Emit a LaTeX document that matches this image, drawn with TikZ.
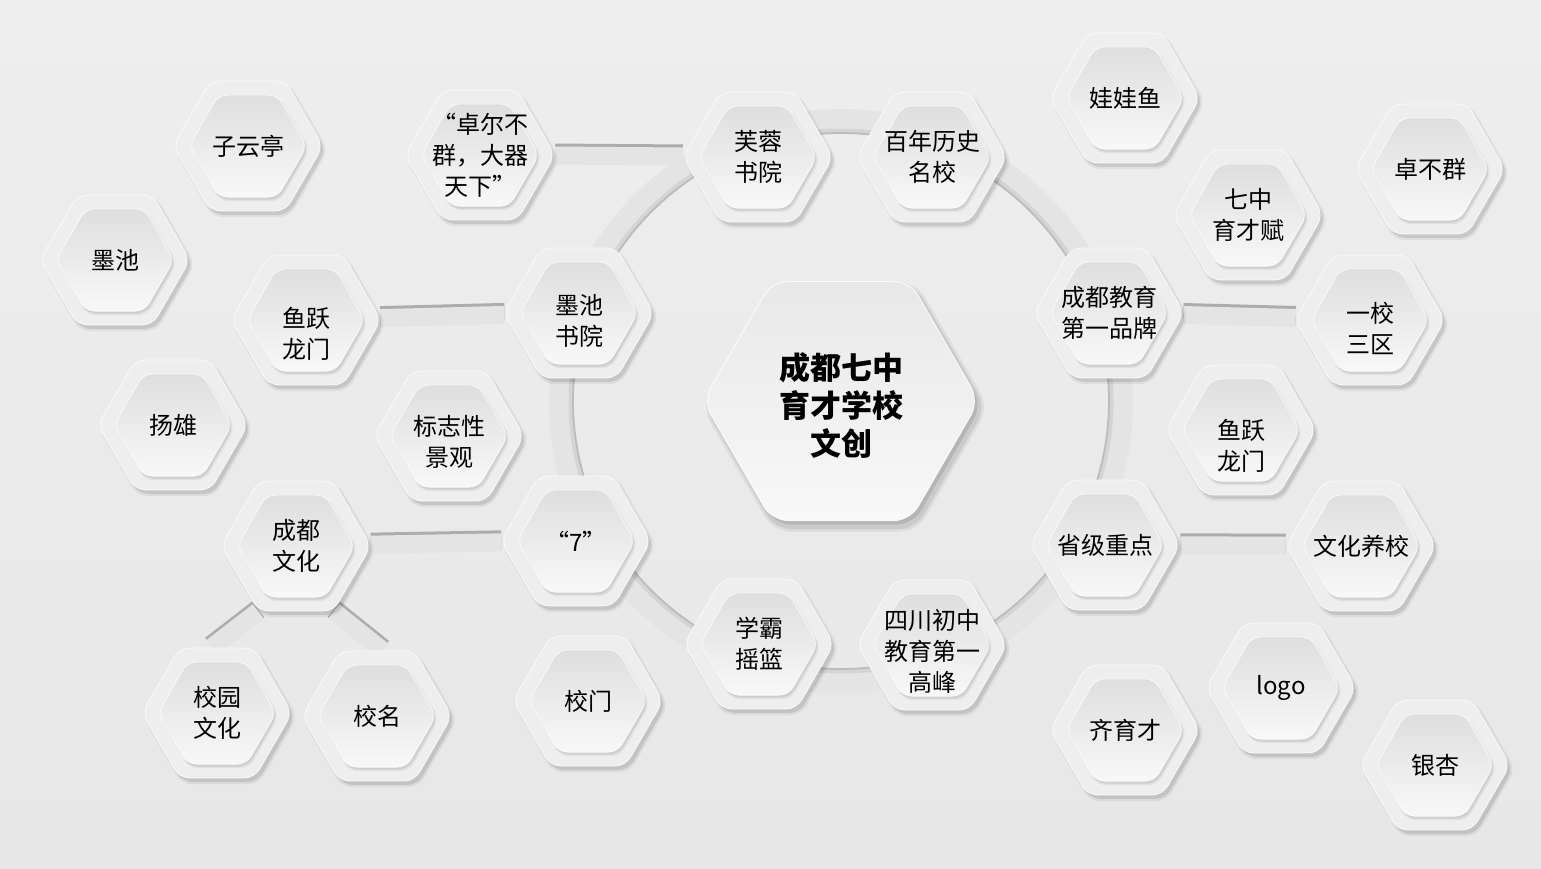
\documentclass[tikz,border=0pt]{standalone}
\usepackage{fontspec}
\setmainfont{Noto Sans CJK SC}
\usetikzlibrary{shapes.geometric,shadows}

\definecolor{bgtop}{RGB}{238,238,238}
\definecolor{bgbot}{RGB}{231,231,231}
\definecolor{plate}{RGB}{238,238,238}
\definecolor{rim}{RGB}{250,250,250}
\definecolor{facetop}{RGB}{222,222,222}
\definecolor{facebot}{RGB}{248,248,248}
\definecolor{groovefill}{RGB}{228,228,228}
\definecolor{grooveedge}{RGB}{172,172,172}
\definecolor{diskedge}{RGB}{188,188,188}
\definecolor{disksoft}{RGB}{212,212,212}

\pgfdeclarelayer{background}
\pgfsetlayers{background,main}

% one cell: outer plate, inner face, text
\newcommand{\hexcell}[4][0]{%
  \node[hexout] (#2) at (#3) {};
  \node[hexin] at (#2) {};
  \node[hextext,yshift=-#1pt] (#2-t) at (#2) {#4};
}

\begin{document}
\begin{tikzpicture}[x=1pt,y=-1pt,
  hexout/.style={regular polygon,regular polygon sides=6,minimum size=150pt,inner sep=0pt,
    rounded corners=10pt,fill=plate,draw=rim,line width=0.8pt,
    drop shadow={shadow xshift=3pt,shadow yshift=-4pt,shadow scale=1.03,opacity=.06,fill=black},
    drop shadow={shadow xshift=3pt,shadow yshift=-4pt,opacity=.10,fill=black}},
  hexin/.style={regular polygon,regular polygon sides=6,minimum size=118pt,inner sep=0pt,
    rounded corners=9pt,top color=facetop,bottom color=facebot,draw=rim,line width=0.8pt,
    drop shadow={shadow xshift=2pt,shadow yshift=-3pt,shadow scale=1.02,opacity=.06,fill=black},
    drop shadow={shadow xshift=1.5pt,shadow yshift=-2.5pt,opacity=.08,fill=black}},
  hextext/.style={align=center,inner sep=0pt,font=\fontsize{24}{31}\selectfont},
  hexbig/.style={regular polygon,regular polygon sides=6,minimum size=276pt,inner sep=0pt,
    rounded corners=16pt,top color=facetop!70!white,bottom color=facebot,draw=rim,line width=1pt,
    drop shadow={shadow xshift=4pt,shadow yshift=-6pt,shadow scale=1.04,opacity=.06,fill=black},
    drop shadow={shadow xshift=4pt,shadow yshift=-6pt,shadow scale=1.02,opacity=.08,fill=black},
    drop shadow={shadow xshift=3pt,shadow yshift=-4pt,opacity=.10,fill=black}},
  groove/.style={line width=18pt,draw=groovefill,
    preaction={draw=grooveedge,line width=20pt,transform canvas={yshift=2pt}}},
  ringband/.style={line width=24pt,draw=groovefill},
  ringedge/.style={line width=1.8pt,draw=diskedge}]

  \useasboundingbox (0,0) rectangle (1541,868);
  \begin{pgfonlayer}{background}
    \fill[bgbot] (0,0) rectangle (1541,868);
    \shade[top color=bgtop,bottom color=bgbot] (0,0) rectangle (1541,868);
  \end{pgfonlayer}

  \node[hexbig] (ctr) at (841,401) {};
  \node[align=center,inner sep=0pt,font=\bfseries\fontsize{31}{38}\selectfont,yshift=-4pt] (ctr-t) at (ctr) {成都七中\\育才学校\\文创};

  \hexcell{zyt}{248,146}{子云亭}
  \hexcell{zebq}{480,155}{“卓尔不\\群，大器\\天下”}
  \hexcell{frsy}{758,157}{芙蓉\\书院}
  \hexcell{bnls}{932,157}{百年历史\\名校}
  \hexcell{wwy}{1125,98}{娃娃鱼}
  \hexcell{qzycf}{1248,215}{七中\\育才赋}
  \hexcell{zbq}{1430,169}{卓不群}
  \hexcell{mc}{115,260}{墨池}
  \hexcell[14]{yylmA}{306,320}{鱼跃\\龙门}
  \hexcell[8]{mcsy}{579,313}{墨池\\书院}
  \hexcell{cdjy}{1109,313}{成都教育\\第一品牌}
  \hexcell[8]{yxsq}{1370,320}{一校\\三区}
  \hexcell{yangx}{173,425}{扬雄}
  \hexcell[6]{bzx}{449,436}{标志性\\景观}
  \hexcell[16]{yylmB}{1241,430}{鱼跃\\龙门}
  \hexcell{cdwh}{296,546}{成都\\文化}
  \hexcell{qi}{576,541}{“7”}
  \hexcell{sjzd}{1105,545}{省级重点}
  \hexcell{whyx}{1361,546}{文化养校}
  \hexcell{xywh}{217,713}{校园\\文化}
  \hexcell{xm}{377,716}{校名}
  \hexcell{xmen}{588,701}{校门}
  \hexcell{xbyl}{759,644}{学霸\\摇篮}
  \hexcell[6]{sccz}{932,645}{四川初中\\教育第一\\高峰}
  \hexcell{qyc}{1125,730}{齐育才}
  \hexcell{logo}{1281,688}{logo}
  \hexcell{yinx}{1435,765}{银杏}

  \begin{pgfonlayer}{background}
    \draw[ringband] (ctr.center) circle[radius=280];
    \draw[line width=5pt,draw=disksoft] (ctr.center) circle[radius=270];
    \draw[ringedge] (ctr.center) circle[radius=268];
    \draw[groove] (zebq) -- (frsy);
    \draw[groove] (yylmA) -- (mcsy);
    \draw[groove] (cdwh) -- (qi);
    \draw[groove] (cdjy) -- (yxsq);
    \draw[groove] (sjzd) -- (whyx);
    \draw[groove] (cdwh.240) -- (xywh.95);
    \draw[groove] (cdwh.300) -- (xm.85);
  \end{pgfonlayer}

\end{tikzpicture}
\end{document}
